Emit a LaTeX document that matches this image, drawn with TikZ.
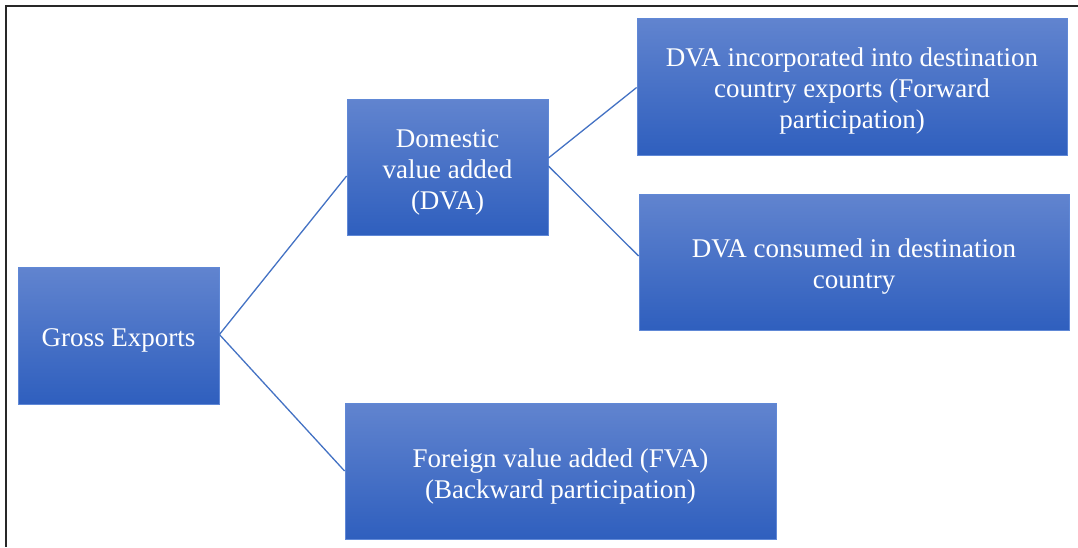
\documentclass[tikz,border=0pt]{standalone}
\usepackage{fontspec}
\setmainfont{Liberation Serif}
\definecolor{boxtop}{RGB}{97,132,207}
\definecolor{boxbot}{RGB}{47,95,190}
\definecolor{boxedge}{RGB}{96,136,214}
\definecolor{linkcol}{RGB}{68,114,196}
\definecolor{framecol}{RGB}{40,40,40}
\tikzset{
  blockbox/.style={rectangle, draw=boxedge, line width=0.8pt, top color=boxtop, bottom color=boxbot,
    inner sep=0pt},
  blocktext/.style={text=white, align=center, inner sep=0pt, yshift=-5pt, font=\fontsize{27}{31}\selectfont},
  link/.style={draw=linkcol, line width=1.3pt}
}
\begin{document}
\begin{tikzpicture}[x=1pt,y=-1pt]
\useasboundingbox (0,0) rectangle (1078,547);
\fill[white] (0,0) rectangle (1078,547);
\draw[framecol, line width=1.5pt] (1078,6) -- (6,6) -- (6,547);
\node[blockbox, minimum width=201pt, minimum height=137pt,
  label={[blocktext]center:{Gross Exports}}] (gross) at (118.5,335.5) {};
\node[blockbox, minimum width=201pt, minimum height=136pt,
  label={[blocktext]center:{Domestic\\value added\\(DVA)}}] (dva) at (447.5,167) {};
\node[blockbox, minimum width=430pt, minimum height=137pt,
  label={[blocktext]center:{DVA incorporated into destination\\country exports (Forward\\participation)}}] (fwd) at (852,86.5) {};
\node[blockbox, minimum width=430pt, minimum height=136pt,
  label={[blocktext]center:{DVA consumed in destination\\country}}] (cons) at (854,262) {};
\node[blockbox, minimum width=431pt, minimum height=136pt,
  label={[blocktext]center:{Foreign value added (FVA)\\(Backward participation)}}] (fva) at (560.5,471) {};
\draw[link] ([yshift=1pt]gross.east) -- ([yshift=-9pt]dva.west);
\draw[link] ([yshift=1pt]gross.east) -- (fva.west);
\draw[link] ([yshift=9pt]dva.east) -- ([yshift=-1pt]fwd.west);
\draw[link] ([yshift=1pt]dva.east) -- ([yshift=6pt]cons.west);
\end{tikzpicture}
\end{document}
